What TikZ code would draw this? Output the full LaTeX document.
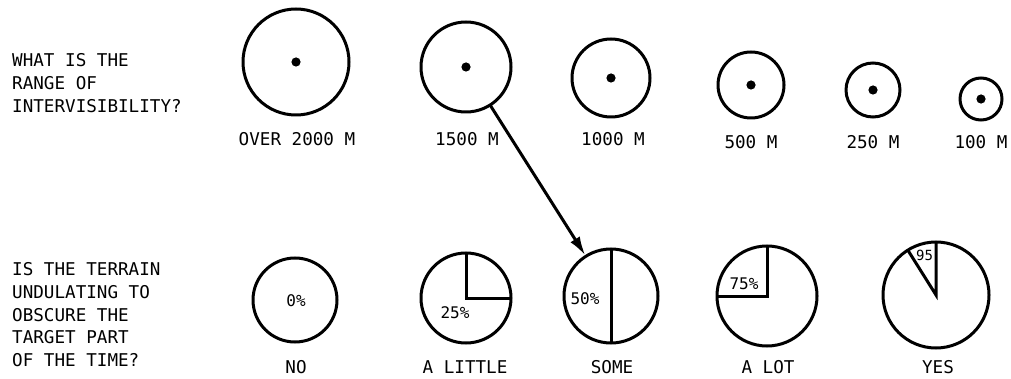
\documentclass[tikz,border=0pt]{standalone}
\usepackage{fontspec}
\setmonofont{DejaVu Sans Mono}
\usetikzlibrary{arrows.meta}
\begin{document}
\begin{tikzpicture}[x=1pt,y=-1pt,
  ring/.style={circle, draw, line width=3pt, inner sep=0pt, outer sep=0pt, minimum size=#1},
  txt/.style={font=\ttfamily\fontsize{17.6}{17.6}\selectfont, inner sep=0pt, anchor=base},
  ltxt/.style={txt, anchor=base west},
  pct/.style={font=\ttfamily\fontsize{16}{16}\selectfont, inner sep=0pt, anchor=base},
  seg/.style={line width=3pt},
  dot/.style={fill=black}]
\useasboundingbox (0,0) rectangle (1011,379);
% left questions
\node[ltxt] (qa1) at (12,67) {WHAT IS THE};
\node[ltxt] (qa2) at (12,90) {RANGE OF};
\node[ltxt] (qa3) at (12,113) {INTERVISIBILITY?};
\node[ltxt] (qb1) at (12,276) {IS THE TERRAIN};
\node[ltxt] (qb2) at (12,298.5) {UNDULATING TO};
\node[ltxt] (qb3) at (12,321) {OBSCURE THE};
\node[ltxt] (qb4) at (12,343.5) {TARGET PART};
\node[ltxt] (qb5) at (12,366) {OF THE TIME?};
% top circles
\node[ring=106pt] (t1) at (296,62) {};
\node[ring=90pt] (t2) at (466,67) {};
\node[ring=78pt] (t3) at (611,78) {};
\node[ring=66pt] (t4) at (751,85) {};
\node[ring=54pt] (t5) at (873,90) {};
\node[ring=42pt] (t6) at (981,99) {};
\foreach \n in {t1,t2,t3,t4,t5,t6} \fill[dot] (\n) circle (4.6pt);
\node[txt] (l1) at (297,146) {OVER 2000 M};
\node[txt] (l2) at (467,146) {1500 M};
\node[txt] (l3) at (613,146) {1000 M};
\node[txt] (l4) at (751,149) {500 M};
\node[txt] (l5) at (873,149) {250 M};
\node[txt] (l6) at (981,149) {100 M};
% bottom circles
\node[ring=84pt] (b1) at (295,300) {};
\node[ring=90pt] (b2) at (466,298) {};
\node[ring=94pt] (b3) at (611,296) {};
\node[ring=100pt] (b4) at (767,296) {};
\node[ring=106pt] (b5) at (936,295) {};
\draw[seg] (b2.north) -- (b2.center) -- (b2.east);
\draw[seg] (b3.north) -- (b3.south);
\draw[seg] (b4.north) -- (b4.center) -- (b4.west);
\draw[seg] (b5.north) -- (b5.center) -- ++(-28.2,-44.9);
\node[pct] (p1) at (296,306) {0\%};
\node[pct] (p2) at (455,318) {25\%};
\node[pct] (p3) at (585,304) {50\%};
\node[pct] (p4) at (744,289) {75\%};
\node[pct, font=\ttfamily\fontsize{14}{14}\selectfont] (p5) at (924.5,261) {95};
\node[txt] (m1) at (296,373) {NO};
\node[txt] (m2) at (465,373) {A LITTLE};
\node[txt] (m3) at (612,373) {SOME};
\node[txt] (m4) at (768,373) {A LOT};
\node[txt] (m5) at (938,373) {YES};
% arrow
\draw[line width=3pt, -{Latex[length=19pt,width=11pt]}, shorten >=1pt] (t2) -- (b3);
\end{tikzpicture}
\end{document}
